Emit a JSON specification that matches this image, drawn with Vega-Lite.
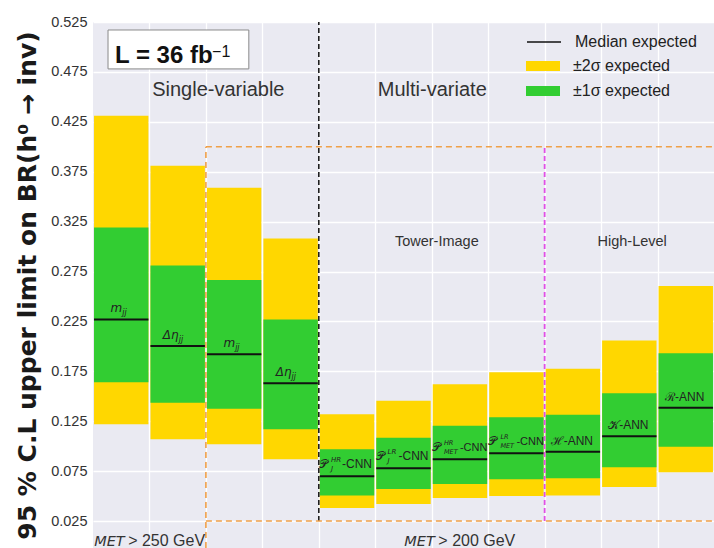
{
  "$schema": "https://vega.github.io/schema/vega-lite/v6.json",
  "width": 621,
  "height": 526,
  "autosize": {"type": "none"},
  "padding": {"left": 93, "top": 22, "right": 0, "bottom": 0},
  "background": "white",
  "config": {"view": {"fill": "#eaeaf2", "stroke": null}, "font": "Liberation Sans"},
  "datasets": {
    "bars": [
      {"c": 0.5, "lo2": 0.122, "lo1": 0.164, "med": 0.227, "hi1": 0.319, "hi2": 0.431, "kind": "var", "main": "m", "sub": "jj"},
      {"c": 1.5, "lo2": 0.107, "lo1": 0.1435, "med": 0.2005, "hi1": 0.281, "hi2": 0.381, "kind": "var", "main": "Δη", "sub": "jj"},
      {"c": 2.5, "lo2": 0.102, "lo1": 0.1375, "med": 0.192, "hi1": 0.2665, "hi2": 0.359, "kind": "var", "main": "m", "sub": "jj"},
      {"c": 3.5, "lo2": 0.087, "lo1": 0.117, "med": 0.163, "hi1": 0.227, "hi2": 0.308, "kind": "var", "main": "Δη", "sub": "jj"},
      {"c": 4.5, "lo2": 0.038, "lo1": 0.0505, "med": 0.070, "hi1": 0.097, "hi2": 0.132, "kind": "cnnJ", "main": "𝒫", "sup": "HR", "sub": "J", "suf": "-CNN"},
      {"c": 5.5, "lo2": 0.042, "lo1": 0.057, "med": 0.078, "hi1": 0.1085, "hi2": 0.1455, "kind": "cnnJ", "main": "𝒫", "sup": "LR", "sub": "J", "suf": "-CNN"},
      {"c": 6.5, "lo2": 0.048, "lo1": 0.062, "med": 0.087, "hi1": 0.1205, "hi2": 0.162, "kind": "cnnMET", "main": "𝒫", "sup": "HR", "sub": "MET", "suf": "-CNN"},
      {"c": 7.5, "lo2": 0.050, "lo1": 0.067, "med": 0.093, "hi1": 0.129, "hi2": 0.174, "kind": "cnnMET", "main": "𝒫", "sup": "LR", "sub": "MET", "suf": "-CNN"},
      {"c": 8.5, "lo2": 0.0505, "lo1": 0.068, "med": 0.0945, "hi1": 0.1315, "hi2": 0.1775, "kind": "ann", "main": "ℋ-ANN"},
      {"c": 9.5, "lo2": 0.059, "lo1": 0.079, "med": 0.110, "hi1": 0.153, "hi2": 0.206, "kind": "ann", "main": "𝒦-ANN"},
      {"c": 10.5, "lo2": 0.074, "lo1": 0.0995, "med": 0.1385, "hi1": 0.193, "hi2": 0.2605, "kind": "ann", "main": "ℛ-ANN"}
    ],
    "lines": [
      {"x": 4, "x2": 4, "y": 0.025, "y2": 0.525, "k": "black"},
      {"x": 8, "x2": 8, "y": 0.025, "y2": 0.4, "k": "mag"},
      {"x": 2, "x2": 11, "y": 0.4, "y2": 0.4, "k": "orange"},
      {"x": 2, "x2": 11, "y": 0.025, "y2": 0.025, "k": "orange"},
      {"x": 2, "x2": 2, "y": -0.002, "y2": 0.4, "k": "orange"}
    ],
    "lumibox": [{"x": 0.266, "x2": 2.76, "y": 0.478, "y2": 0.517}],
    "lumitext": [{"x": 0.39, "y": 0.4836, "t": "L = 36 fb", "xs": 2.11, "ys": 0.4899, "ts": "−1"}],
    "notes": [
      {"x": 2.22, "y": 0.4505, "t": "Single-variable", "k": "big"},
      {"x": 6.01, "y": 0.4505, "t": "Multi-variate", "k": "big"},
      {"x": 6.09, "y": 0.301, "t": "Tower-Image", "k": "mid"},
      {"x": 9.55, "y": 0.301, "t": "High-Level", "k": "mid"}
    ],
    "met": [
      {"x": 0.02, "y": 0.0, "t1": "MET", "t2": "> 250 GeV"},
      {"x": 5.515, "y": 0.0, "t1": "MET", "t2": "> 200 GeV"}
    ]
  },
  "data": {"name": "bars"},
  "layer": [
    {
      "mark": {"type": "rect", "xOffset": -27.2, "x2Offset": 27.2},
      "encoding": {
        "x": {"field": "c", "type": "quantitative", "scale": {"domain": [0, 11], "nice": false, "zero": false},
              "axis": {"title": null, "values": [1, 2, 3, 4, 5, 6, 7, 8, 9, 10], "labels": false, "ticks": false, "domain": false, "grid": true, "gridColor": "white", "gridWidth": 1.3}},
        "x2": {"field": "c"},
        "y": {"field": "lo2", "type": "quantitative", "scale": {"domain": [-0.002, 0.525], "nice": false, "zero": false},
              "axis": {"title": "95 % C.L upper limit on BR(h⁰ → inv)", "values": [0.025, 0.075, 0.125, 0.175, 0.225, 0.275, 0.325, 0.375, 0.425, 0.475, 0.525], "format": ".3f",
                       "ticks": false, "domain": false, "grid": true, "gridColor": "white", "gridWidth": 1.3,
                       "labelFont": "Liberation Sans", "labelFontSize": 14.5, "labelColor": "#333", "labelPadding": 6,
                       "titleFont": "DejaVu Sans", "titleFontSize": 25, "titleFontWeight": "bold", "titleColor": "#1a1a1a", "titlePadding": 10}},
        "y2": {"field": "hi2"},
        "fill": {"datum": "±2σ expected", "scale": {"domain": ["±2σ expected", "±1σ expected"], "range": ["#ffd700", "#32cd32"]},
                 "legend": {"orient": "none", "legendX": 433, "legendY": 27, "title": null, "padding": 0,
                            "symbolType": "M-1,-0.3H1V0.3H-1Z", "symbolSize": 1156, "symbolStrokeWidth": 0, "symbolOpacity": 1,
                            "labelFont": "Liberation Sans", "labelFontSize": 16, "labelColor": "#222", "labelOffset": 13, "rowPadding": 0}}
      }
    },
    {
      "mark": {"type": "rect", "xOffset": -27.2, "x2Offset": 27.2},
      "encoding": {
        "x": {"field": "c", "type": "quantitative"},
        "x2": {"field": "c"},
        "y": {"field": "lo1", "type": "quantitative"},
        "y2": {"field": "hi1"},
        "fill": {"datum": "±1σ expected"}
      }
    },
    {
      "mark": {"type": "rule", "xOffset": -27.2, "x2Offset": 27.2, "strokeWidth": 2},
      "encoding": {
        "x": {"field": "c", "type": "quantitative"},
        "x2": {"field": "c"},
        "y": {"field": "med", "type": "quantitative"},
        "stroke": {"datum": "Median expected", "scale": {"domain": ["Median expected"], "range": ["#111111"]},
                   "legend": {"orient": "none", "legendX": 433, "legendY": 2, "title": null, "padding": 0,
                              "symbolType": "stroke", "symbolSize": 1156, "symbolStrokeWidth": 1.5,
                              "labelFont": "Liberation Sans", "labelFontSize": 16, "labelColor": "#222", "labelOffset": 13}}
      }
    },
    {
      "data": {"name": "lines"},
      "transform": [{"filter": "datum.k == 'black'"}],
      "mark": {"type": "rule", "stroke": "#111111", "strokeWidth": 1.5, "strokeDash": [5, 3]},
      "encoding": {"x": {"field": "x", "type": "quantitative"}, "x2": {"field": "x2"}, "y": {"field": "y", "type": "quantitative"}, "y2": {"field": "y2"}}
    },
    {
      "data": {"name": "lines"},
      "transform": [{"filter": "datum.k == 'mag'"}],
      "mark": {"type": "rule", "stroke": "#e04fe6", "strokeWidth": 1.8, "strokeDash": [5, 3]},
      "encoding": {"x": {"field": "x", "type": "quantitative"}, "x2": {"field": "x2"}, "y": {"field": "y", "type": "quantitative"}, "y2": {"field": "y2"}}
    },
    {
      "data": {"name": "lines"},
      "transform": [{"filter": "datum.k == 'orange'"}],
      "mark": {"type": "rule", "stroke": "#f0a048", "strokeWidth": 1.6, "strokeDash": [6, 4]},
      "encoding": {"x": {"field": "x", "type": "quantitative"}, "x2": {"field": "x2"}, "y": {"field": "y", "type": "quantitative"}, "y2": {"field": "y2"}}
    },
    {
      "data": {"name": "lumibox"},
      "mark": {"type": "rect", "fill": "white", "stroke": "#8a8a8a", "strokeWidth": 1},
      "encoding": {"x": {"field": "x", "type": "quantitative"}, "x2": {"field": "x2"}, "y": {"field": "y", "type": "quantitative"}, "y2": {"field": "y2"}}
    },
    {
      "data": {"name": "lumitext"},
      "mark": {"type": "text", "align": "left", "baseline": "alphabetic", "font": "Liberation Sans", "fontSize": 24, "fontWeight": "bold", "color": "#111"},
      "encoding": {"x": {"field": "x", "type": "quantitative"}, "y": {"field": "y", "type": "quantitative"}, "text": {"field": "t"}}
    },
    {
      "data": {"name": "lumitext"},
      "mark": {"type": "text", "align": "left", "baseline": "alphabetic", "font": "Liberation Sans", "fontSize": 16, "color": "#111"},
      "encoding": {"x": {"field": "xs", "type": "quantitative"}, "y": {"field": "ys", "type": "quantitative"}, "text": {"field": "ts"}}
    },
    {
      "data": {"name": "notes"},
      "transform": [{"filter": "datum.k == 'big'"}],
      "mark": {"type": "text", "align": "center", "baseline": "alphabetic", "font": "Liberation Sans", "fontSize": 20, "color": "#333"},
      "encoding": {"x": {"field": "x", "type": "quantitative"}, "y": {"field": "y", "type": "quantitative"}, "text": {"field": "t"}}
    },
    {
      "data": {"name": "notes"},
      "transform": [{"filter": "datum.k == 'mid'"}],
      "mark": {"type": "text", "align": "center", "baseline": "alphabetic", "font": "Liberation Sans", "fontSize": 14.5, "color": "#333"},
      "encoding": {"x": {"field": "x", "type": "quantitative"}, "y": {"field": "y", "type": "quantitative"}, "text": {"field": "t"}}
    },
    {
      "data": {"name": "met"},
      "mark": {"type": "text", "align": "left", "baseline": "alphabetic", "font": "DejaVu Sans", "fontStyle": "italic", "fontSize": 14.5, "color": "#333"},
      "encoding": {"x": {"field": "x", "type": "quantitative"}, "y": {"field": "y", "type": "quantitative"}, "text": {"field": "t1"}}
    },
    {
      "data": {"name": "met"},
      "mark": {"type": "text", "align": "left", "baseline": "alphabetic", "font": "Liberation Sans", "fontSize": 16, "color": "#333", "dx": 34},
      "encoding": {"x": {"field": "x", "type": "quantitative"}, "y": {"field": "y", "type": "quantitative"}, "text": {"field": "t2"}}
    },
    {
      "transform": [{"filter": "datum.kind == 'var'"}],
      "mark": {"type": "text", "align": "right", "baseline": "alphabetic", "font": "DejaVu Sans", "fontStyle": "italic", "fontSize": 12, "color": "#222", "dx": 1, "dy": -7},
      "encoding": {"x": {"field": "c", "type": "quantitative"}, "y": {"field": "med", "type": "quantitative"}, "text": {"field": "main"}}
    },
    {
      "transform": [{"filter": "datum.kind == 'var'"}],
      "mark": {"type": "text", "align": "left", "baseline": "alphabetic", "font": "DejaVu Sans", "fontStyle": "italic", "fontSize": 8, "color": "#222", "dx": 1, "dy": -4},
      "encoding": {"x": {"field": "c", "type": "quantitative"}, "y": {"field": "med", "type": "quantitative"}, "text": {"field": "sub"}}
    },
    {
      "transform": [{"filter": "datum.kind == 'cnnJ' || datum.kind == 'cnnMET'"}],
      "mark": {"type": "text", "align": "left", "baseline": "alphabetic", "font": "DejaVu Sans", "fontSize": 11.5, "color": "#222", "dx": -28, "dy": -8},
      "encoding": {"x": {"field": "c", "type": "quantitative"}, "y": {"field": "med", "type": "quantitative"}, "text": {"field": "main"}}
    },
    {
      "transform": [{"filter": "datum.kind == 'cnnJ'"}],
      "mark": {"type": "text", "align": "left", "baseline": "alphabetic", "font": "DejaVu Sans", "fontStyle": "italic", "fontSize": 7, "color": "#222", "dx": -16, "dy": -14},
      "encoding": {"x": {"field": "c", "type": "quantitative"}, "y": {"field": "med", "type": "quantitative"}, "text": {"field": "sup"}}
    },
    {
      "transform": [{"filter": "datum.kind == 'cnnJ'"}],
      "mark": {"type": "text", "align": "left", "baseline": "alphabetic", "font": "DejaVu Sans", "fontStyle": "italic", "fontSize": 7, "color": "#222", "dx": -16, "dy": -5},
      "encoding": {"x": {"field": "c", "type": "quantitative"}, "y": {"field": "med", "type": "quantitative"}, "text": {"field": "sub"}}
    },
    {
      "transform": [{"filter": "datum.kind == 'cnnJ'"}],
      "mark": {"type": "text", "align": "left", "baseline": "alphabetic", "font": "Liberation Sans", "fontSize": 12, "color": "#222", "dx": -5, "dy": -8},
      "encoding": {"x": {"field": "c", "type": "quantitative"}, "y": {"field": "med", "type": "quantitative"}, "text": {"field": "suf"}}
    },
    {
      "transform": [{"filter": "datum.kind == 'cnnMET'"}],
      "mark": {"type": "text", "align": "left", "baseline": "alphabetic", "font": "DejaVu Sans", "fontStyle": "italic", "fontSize": 6.5, "color": "#222", "dx": -16, "dy": -14},
      "encoding": {"x": {"field": "c", "type": "quantitative"}, "y": {"field": "med", "type": "quantitative"}, "text": {"field": "sup"}}
    },
    {
      "transform": [{"filter": "datum.kind == 'cnnMET'"}],
      "mark": {"type": "text", "align": "left", "baseline": "alphabetic", "font": "DejaVu Sans", "fontStyle": "italic", "fontSize": 6.5, "color": "#222", "dx": -16, "dy": -5},
      "encoding": {"x": {"field": "c", "type": "quantitative"}, "y": {"field": "med", "type": "quantitative"}, "text": {"field": "sub"}}
    },
    {
      "transform": [{"filter": "datum.kind == 'cnnMET'"}],
      "mark": {"type": "text", "align": "left", "baseline": "alphabetic", "font": "Liberation Sans", "fontSize": 11, "color": "#222", "dx": 0, "dy": -8},
      "encoding": {"x": {"field": "c", "type": "quantitative"}, "y": {"field": "med", "type": "quantitative"}, "text": {"field": "suf"}}
    },
    {
      "transform": [{"filter": "datum.kind == 'ann'"}],
      "mark": {"type": "text", "align": "center", "baseline": "alphabetic", "font": "Liberation Sans", "fontSize": 12, "color": "#222", "dx": -1, "dy": -7},
      "encoding": {"x": {"field": "c", "type": "quantitative"}, "y": {"field": "med", "type": "quantitative"}, "text": {"field": "main"}}
    }
  ]
}
